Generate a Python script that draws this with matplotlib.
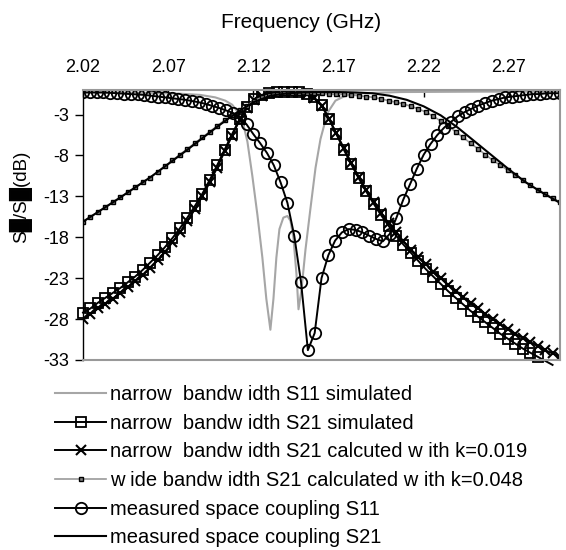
import numpy as np
import matplotlib
matplotlib.use('Agg')
import matplotlib.pyplot as plt

plt.rcParams['font.family'] = ['Liberation Sans', 'DejaVu Sans']

#-------------------------------------
# Data
# frequency sweeps [GHz]
f_sim = np.linspace(2.02, 2.30, 65)
f_meas = np.linspace(2.02, 2.30, 71)

# narrow bandwidth S11 simulated (no markers)
s11_sim_f = [2.0200, 2.0418, 2.0594, 2.0771, 2.0888, 2.0976, 2.1035, 2.1076, 2.1112,
             2.1141, 2.1165, 2.1194, 2.1224, 2.1253, 2.1276, 2.1300, 2.1318, 2.1335,
             2.1353, 2.1376, 2.1400, 2.1418, 2.1435, 2.1453, 2.1465, 2.1482, 2.1506,
             2.1535, 2.1565, 2.1594, 2.1635, 2.1682, 2.1741, 2.1829, 2.2065, 2.2535, 2.3000]
s11_sim_db = [-0.3, -0.3, -0.35, -0.45, -0.6, -0.9, -1.3, -1.8, -2.8,
              -4.2, -6.3, -10.5, -15.3, -20.5, -25.5, -29.3, -25.5, -20.5,
              -17.0, -15.6, -15.4, -16.0, -18.0, -22.5, -26.8, -24.5, -19.5,
              -14.5, -9.5, -6.0, -2.8, -1.3, -0.7, -0.4, -0.25, -0.2, -0.2]

# narrow bandwidth S21 simulated
s21_sim_db = [-27.2, -26.7, -26.0, -25.4, -24.8, -24.2, -23.5, -22.8, -22.0, -21.1,
              -20.2, -19.2, -18.1, -16.9, -15.6, -14.2, -12.7, -11.0, -9.2, -7.3,
              -5.4, -3.6, -2.1, -1.1, -0.6, -0.4, -0.3, -0.3, -0.3, -0.3,
              -0.5, -0.9, -1.8, -3.5, -5.4, -7.3, -9.1, -10.8, -12.4, -13.9,
              -15.3, -16.6, -17.8, -18.9, -19.9, -20.9, -21.9, -22.8, -23.7, -24.6,
              -25.4, -26.2, -27.0, -27.7, -28.4, -29.1, -29.8, -30.4, -31.0, -31.6,
              -32.1, -32.6, -33.1, -33.6]

# narrow bandwidth S21 calculated, k=0.019
s21_k019_db = [-28.0, -27.4, -26.7, -26.1, -25.5, -24.8, -24.1, -23.4, -22.6, -21.7,
               -20.8, -19.8, -18.6, -17.4, -16.0, -14.6, -13.0, -11.3, -9.5, -7.5,
               -5.6, -3.7, -2.2, -1.2, -0.7, -0.4, -0.3, -0.3, -0.3, -0.3,
               -0.5, -1.0, -1.9, -3.5, -5.3, -7.1, -8.9, -10.6, -12.2, -13.7,
               -15.0, -16.3, -17.4, -18.5, -19.5, -20.4, -21.3, -22.2, -23.0, -23.8,
               -24.6, -25.3, -26.0, -26.7, -27.4, -28.0, -28.6, -29.2, -29.8, -30.3,
               -30.8, -31.3, -31.8, -32.2, -32.6]

# wide bandwidth S21 calculated, k=0.048
s21_k048_db = [-16.1, -15.5, -14.9, -14.3, -13.7, -13.1, -12.5, -11.9, -11.3, -10.7,
               -10.0, -9.3, -8.6, -7.9, -7.2, -6.5, -5.8, -5.1, -4.4, -3.7,
               -3.1, -2.5, -1.9, -1.3, -0.9, -0.6, -0.5, -0.4, -0.4, -0.4,
               -0.4, -0.4, -0.4, -0.5, -0.5, -0.5, -0.6, -0.7, -0.8, -0.9,
               -1.1, -1.3, -1.5, -1.7, -2.0, -2.3, -2.7, -3.2, -3.8, -4.4,
               -5.1, -5.8, -6.5, -7.2, -7.9, -8.6, -9.2, -9.8, -10.4, -11.0,
               -11.6, -12.2, -12.7, -13.2, -13.7]

# measured space coupling S11
s11_meas_db = [-0.3, -0.3, -0.3, -0.3, -0.35, -0.4, -0.45, -0.5, -0.55, -0.6, -0.7,
               -0.8, -0.9, -1.0, -1.1, -1.2, -1.35, -1.5, -1.7, -1.95, -2.2, -2.5, -2.8, -3.3,
               -4.2, -5.4, -6.5, -7.7, -9.2, -11.3, -13.8, -17.8, -23.5, -31.8,
               -29.7, -23.0, -20.2, -18.4, -17.4, -17.0, -17.1, -17.4, -17.8, -18.2, -18.5,
               -17.6, -15.6, -13.4, -11.5, -9.6, -7.9, -6.6, -5.5, -4.6, -3.9, -3.2,
               -2.7, -2.3, -1.9, -1.6, -1.3, -1.1, -0.9, -0.8, -0.7, -0.6, -0.5, -0.5, -0.4, -0.4, -0.4]

# measured space coupling S21 (no markers)
s21_meas_f = [2.02, 2.04, 2.06, 2.08, 2.09, 2.10, 2.11, 2.12, 2.13, 2.14, 2.15, 2.16, 2.17,
              2.18, 2.19, 2.20, 2.21, 2.22, 2.23, 2.24, 2.25, 2.26, 2.27, 2.28, 2.29, 2.30]
s21_meas_db = [-16.1, -13.4, -10.6, -7.5, -5.9, -4.3, -2.8, -1.5, -0.7, -0.4, -0.3, -0.25, -0.25,
               -0.3, -0.4, -0.7, -1.2, -2.0, -3.1, -4.6, -6.3, -8.0, -9.7, -11.3, -12.6, -13.8]

labels = ['narrow  bandw idth S11 simulated',
          'narrow  bandw idth S21 simulated',
          'narrow  bandw idth S21 calcuted w ith k=0.019',
          'w ide bandw idth S21 calculated w ith k=0.048',
          'measured space coupling S11',
          'measured space coupling S21']

xticks = [2.02, 2.07, 2.12, 2.17, 2.22, 2.27]
yticks = [-33, -28, -23, -18, -13, -8, -3]

#-------------------------------------
# Figure
fig = plt.figure(figsize=(5.66, 5.5), dpi=100)
ax = fig.add_axes([83/566, 1-360/550, (560-83)/566, 270/550])

l1, = ax.plot(s11_sim_f, s11_sim_db, color='#a6a6a6', lw=1.5)
l2, = ax.plot(f_sim[:len(s21_sim_db)], s21_sim_db, color='black', lw=1.4,
              marker='s', ms=6.5, mfc='none', mec='black', mew=1.3,
              markevery=slice(0, 62), clip_on=False)
l3, = ax.plot(f_sim, s21_k019_db, color='black', lw=1.4,
              marker='x', ms=6.5, mec='black', mew=1.5)
l4, = ax.plot(f_sim, s21_k048_db, color='#999999', lw=1.2,
              marker='s', ms=3.2, mfc='#808080', mec='black', mew=1.0)
l5, = ax.plot(f_meas, s11_meas_db, color='black', lw=1.4,
              marker='o', ms=8.2, mfc='none', mec='black', mew=1.3)
l6, = ax.plot(s21_meas_f, s21_meas_db, color='black', lw=1.5)

ax.set_xlim(2.02, 2.30)
ax.set_ylim(-33, 0)
ax.set_xticks(xticks)
ax.set_xticklabels(['%.2f' % v for v in xticks])
ax.set_yticks(yticks)
ax.set_yticklabels([str(v) for v in yticks])
ax.xaxis.tick_top()
ax.tick_params(axis='x', direction='in', length=5, width=1, pad=10, labelsize=13)
ax.tick_params(axis='y', direction='out', length=6, width=1, pad=4, labelsize=13)

for s in ['top', 'right', 'bottom']:
    ax.spines[s].set_color('#999999')
    ax.spines[s].set_linewidth(1.5)
ax.spines['left'].set_color('black')
ax.spines['left'].set_linewidth(1.0)

fig.text(301/566, 1-22/550, 'Frequency (GHz)', ha='center', va='center', fontsize=15)
fig.text(21/566, 1-197/550, 'S\u2588/S\u2588(dB)', rotation=90, ha='center', va='center', fontsize=13.5)

fig.legend([l1, l2, l3, l4, l5, l6], labels, loc='upper left',
           bbox_to_anchor=(55/566, 1-385/550), frameon=False, fontsize=14.5,
           handlelength=2.55, handletextpad=0.2, labelspacing=0.48,
           borderpad=0, borderaxespad=0)

fig.savefig('out.png', dpi=100)
